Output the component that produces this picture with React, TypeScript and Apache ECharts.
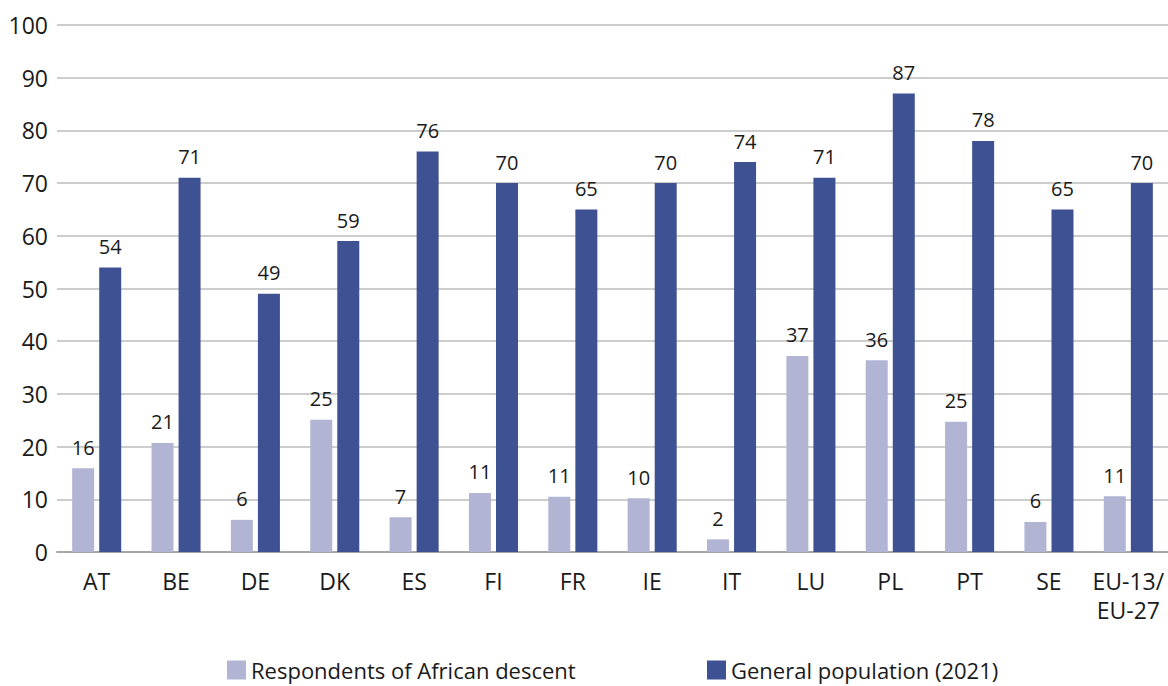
import React, { useEffect, useRef } from "react";
import * as echarts from "echarts";

const categories = ["AT", "BE", "DE", "DK", "ES", "FI", "FR", "IE", "IT", "LU", "PL", "PT", "SE", "EU-13/\nEU-27"];
const africanDescent = [15.9, 20.7, 6.1, 25.1, 6.6, 11.2, 10.5, 10.2, 2.4, 37.2, 36.4, 24.7, 5.7, 10.6];
const generalPopulation = [54, 71, 49, 59, 76, 70, 65, 70, 74, 71, 87, 78, 65, 70];
const seriesNames = ["Respondents of African descent", "General population (2021)"];

const FONT = "'Open Sans', 'Noto Sans', sans-serif";

export default function App() {
  const ref = useRef<HTMLDivElement>(null);
  useEffect(() => {
    if (!ref.current) return;
    const chart = echarts.init(ref.current, undefined, { renderer: "svg" });
    const label = {
      show: true,
      position: "top",
      distance: 11,
      fontSize: 20,
      fontFamily: FONT,
      color: "#1a1a1a",
      formatter: (p: any) => String(Math.round(p.value)),
    };
    const legendBase = {
      top: 659,
      padding: 0,
      itemWidth: 19,
      itemHeight: 19,
      itemGap: 8,
      icon: "rect",
      textStyle: { fontSize: 22, fontFamily: FONT, color: "#1a1a1a" },
    };
    chart.setOption({
      animation: false,
      backgroundColor: "#ffffff",
      grid: { left: 57, right: 0, top: 25, bottom: 134, containLabel: false },
      legend: [
        { ...legendBase, data: [seriesNames[0]], left: 227 },
        { ...legendBase, data: [seriesNames[1]], left: 707 },
      ],
      xAxis: {
        type: "category",
        data: categories,
        axisTick: { show: false },
        axisLine: { lineStyle: { color: "#a6a6a6", width: 2 } },
        axisLabel: {
          fontSize: 23,
          fontFamily: FONT,
          color: "#1a1a1a",
          margin: 14,
          lineHeight: 29,
          interval: 0,
        },
      },
      yAxis: {
        type: "value",
        min: 0,
        max: 100,
        interval: 10,
        axisLine: { show: false },
        axisTick: { show: false },
        splitLine: { lineStyle: { color: "#bdbdbd", width: 1.5 } },
        axisLabel: { fontSize: 23, fontFamily: FONT, color: "#1a1a1a", margin: 9 },
      },
      series: [
        {
          name: seriesNames[0],
          type: "bar",
          data: africanDescent,
          barWidth: 22,
          barGap: "23%",
          itemStyle: { color: "#b2b4d4" },
          label,
        },
        {
          name: seriesNames[1],
          type: "bar",
          data: generalPopulation,
          barWidth: 22,
          itemStyle: { color: "#3e5192" },
          label,
        },
      ],
    });
    return () => chart.dispose();
  }, []);
  return (
    <div
      ref={ref}
      style={{ position: "absolute", left: 0, top: 0, width: 1168, height: 686 }}
    />
  );
}
